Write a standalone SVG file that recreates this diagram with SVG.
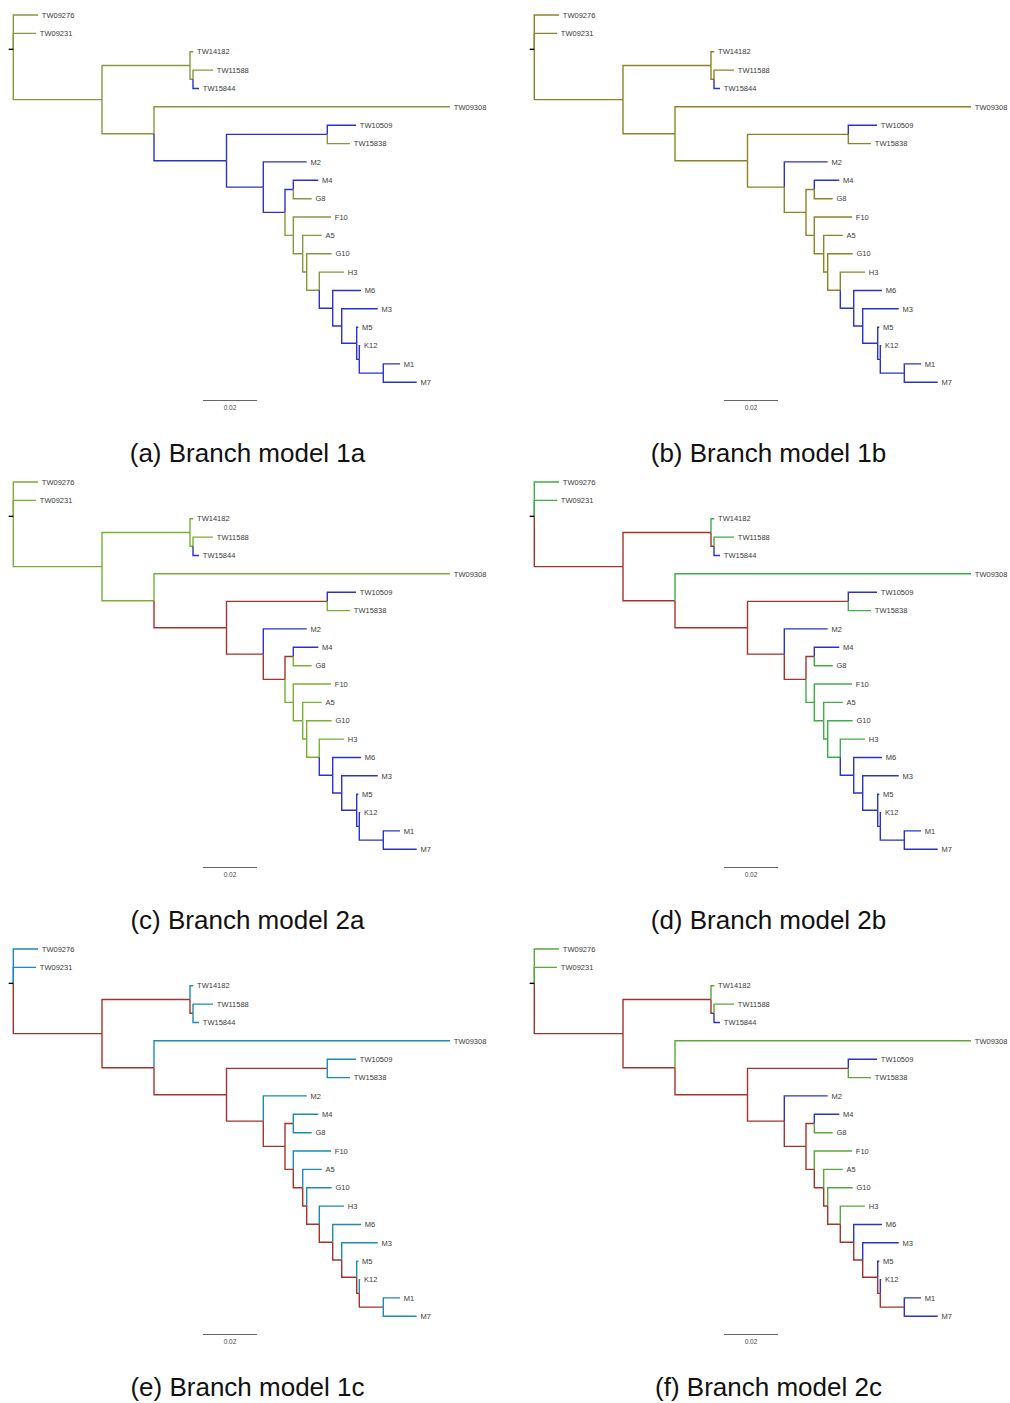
<svg xmlns="http://www.w3.org/2000/svg" width="1010" height="1403" viewBox="0 0 1010 1403">
<style>
.e path{fill:none;stroke-width:1.4;stroke-linejoin:miter;stroke-linecap:butt}
.oa{stroke:#8b963f}.ob{stroke:#8c8424}.yg{stroke:#7ab034}.gd{stroke:#3fae49}.gf{stroke:#58a83a}
.bl{stroke:#2d32c8}.rd{stroke:#a3342c}.tl{stroke:#1c8cb4}
.root{stroke:#000;stroke-width:1.2;fill:none}
.lbl text{font-family:"Liberation Sans",Arial,sans-serif;font-size:7.5px;fill:#3a3a3a}
.sb{stroke:#666;stroke-width:1.2;fill:none}
.sbt{font-family:"Liberation Sans",Arial,sans-serif;font-size:6.5px;fill:#444;text-anchor:middle}
.cap{font-family:"Liberation Sans",Arial,sans-serif;font-size:26px;fill:#111;text-anchor:middle}
</style>
<rect width="1010" height="1403" fill="#fff"/>

<!-- Panel a -->
<g id="panel-a">
<g id="a-connectors" class="e">
<path class="oa" d="M13.3 49.35V15H38"/><path class="oa" d="M13.3 49.35V33.4H36"/><path class="oa" d="M13.3 49.35V99.65H102"/>
<path class="oa" d="M102 99.65V65.5H190"/><path class="oa" d="M190 65.5V51.7H193.3"/><path class="oa" d="M190 65.5V79.3H193"/>
<path class="oa" d="M193 79.3V70.1H213"/><path class="bl" d="M193 79.3V88.5H199"/><path class="oa" d="M102 99.65V133.8H154"/>
<path class="oa" d="M154 133.8V106.8H450"/><path class="bl" d="M154 133.8V160.8H226.5"/><path class="bl" d="M226.5 160.8V134.4H327.3"/>
<path class="bl" d="M327.3 134.4V125.2H356"/><path class="oa" d="M327.3 134.4V143.6H350"/><path class="bl" d="M226.5 160.8V187.15H263.3"/>
<path class="bl" d="M263.3 187.15V161.9H306.7"/><path class="bl" d="M263.3 187.15V212.4H285"/><path class="bl" d="M285 212.4V189.5H293.3"/>
<path class="bl" d="M293.3 189.5V180.3H318.3"/><path class="oa" d="M293.3 189.5V198.7H311.7"/><path class="oa" d="M285 212.4V235.35H293.3"/>
<path class="oa" d="M293.3 235.35V217H331"/><path class="oa" d="M293.3 235.35V253.7H302.7"/><path class="oa" d="M302.7 253.7V235.4H321.7"/>
<path class="oa" d="M302.7 253.7V271.95H306.7"/><path class="oa" d="M306.7 271.95V253.7H331.7"/><path class="oa" d="M306.7 271.95V290.2H319.3"/>
<path class="oa" d="M319.3 290.2V272.1H344"/><path class="bl" d="M319.3 290.2V308.3H332.7"/><path class="bl" d="M332.7 308.3V290.5H361"/>
<path class="bl" d="M332.7 308.3V326.05H341.7"/><path class="bl" d="M341.7 326.05V308.8H377.7"/><path class="bl" d="M341.7 326.05V343.3H356.7"/>
<path class="bl" d="M356.7 343.3V327.2H358.3"/><path class="bl" d="M356.7 343.3V359.35H359.3"/><path class="bl" d="M359.3 359.35V345.6H360.3"/>
<path class="bl" d="M359.3 359.35V373.1H383.3"/><path class="bl" d="M383.3 373.1V363.9H400"/><path class="bl" d="M383.3 373.1V382.3H416.7"/>
<path class="root" d="M8.7 49.35H13.3"/>
</g>
<g id="a-leaves" class="lbl">
<g id="a-TW09276"><text x="41.8" y="17.7">TW09276</text></g>
<g id="a-TW09231"><text x="39.8" y="36.1">TW09231</text></g>
<g id="a-TW14182"><text x="197.1" y="54.4">TW14182</text></g>
<g id="a-TW11588"><text x="216.8" y="72.8">TW11588</text></g>
<g id="a-TW15844"><text x="202.8" y="91.2">TW15844</text></g>
<g id="a-TW09308"><text x="453.8" y="109.5">TW09308</text></g>
<g id="a-TW10509"><text x="359.8" y="127.9">TW10509</text></g>
<g id="a-TW15838"><text x="353.8" y="146.3">TW15838</text></g>
<g id="a-M2"><text x="310.5" y="164.6">M2</text></g>
<g id="a-M4"><text x="322.1" y="183">M4</text></g>
<g id="a-G8"><text x="315.5" y="201.4">G8</text></g>
<g id="a-F10"><text x="334.8" y="219.7">F10</text></g>
<g id="a-A5"><text x="325.5" y="238.1">A5</text></g>
<g id="a-G10"><text x="335.5" y="256.4">G10</text></g>
<g id="a-H3"><text x="347.8" y="274.8">H3</text></g>
<g id="a-M6"><text x="364.8" y="293.2">M6</text></g>
<g id="a-M3"><text x="381.5" y="311.5">M3</text></g>
<g id="a-M5"><text x="362.1" y="329.9">M5</text></g>
<g id="a-K12"><text x="364.1" y="348.3">K12</text></g>
<g id="a-M1"><text x="403.8" y="366.6">M1</text></g>
<g id="a-M7"><text x="420.5" y="385">M7</text></g>
</g>
<path class="sb" d="M203 400.5H257"/><text class="sbt" x="230" y="409.8">0.02</text>
<text class="cap" x="247.5" y="462">(a) Branch model 1a</text>
</g>

<!-- Panel b -->
<g id="panel-b" transform="translate(521,0)">
<g id="b-connectors" class="e">
<path class="ob" d="M13.3 49.35V15H38"/><path class="ob" d="M13.3 49.35V33.4H36"/><path class="ob" d="M13.3 49.35V99.65H102"/>
<path class="ob" d="M102 99.65V65.5H190"/><path class="ob" d="M190 65.5V51.7H193.3"/><path class="ob" d="M190 65.5V79.3H193"/>
<path class="ob" d="M193 79.3V70.1H213"/><path class="bl" d="M193 79.3V88.5H199"/><path class="ob" d="M102 99.65V133.8H154"/>
<path class="ob" d="M154 133.8V106.8H450"/><path class="ob" d="M154 133.8V160.8H226.5"/><path class="ob" d="M226.5 160.8V134.4H327.3"/>
<path class="bl" d="M327.3 134.4V125.2H356"/><path class="ob" d="M327.3 134.4V143.6H350"/><path class="ob" d="M226.5 160.8V187.15H263.3"/>
<path class="bl" d="M263.3 187.15V161.9H306.7"/><path class="ob" d="M263.3 187.15V212.4H285"/><path class="ob" d="M285 212.4V189.5H293.3"/>
<path class="bl" d="M293.3 189.5V180.3H318.3"/><path class="ob" d="M293.3 189.5V198.7H311.7"/><path class="ob" d="M285 212.4V235.35H293.3"/>
<path class="ob" d="M293.3 235.35V217H331"/><path class="ob" d="M293.3 235.35V253.7H302.7"/><path class="ob" d="M302.7 253.7V235.4H321.7"/>
<path class="ob" d="M302.7 253.7V271.95H306.7"/><path class="ob" d="M306.7 271.95V253.7H331.7"/><path class="ob" d="M306.7 271.95V290.2H319.3"/>
<path class="ob" d="M319.3 290.2V272.1H344"/><path class="bl" d="M319.3 290.2V308.3H332.7"/><path class="bl" d="M332.7 308.3V290.5H361"/>
<path class="bl" d="M332.7 308.3V326.05H341.7"/><path class="bl" d="M341.7 326.05V308.8H377.7"/><path class="bl" d="M341.7 326.05V343.3H356.7"/>
<path class="bl" d="M356.7 343.3V327.2H358.3"/><path class="bl" d="M356.7 343.3V359.35H359.3"/><path class="bl" d="M359.3 359.35V345.6H360.3"/>
<path class="bl" d="M359.3 359.35V373.1H383.3"/><path class="bl" d="M383.3 373.1V363.9H400"/><path class="bl" d="M383.3 373.1V382.3H416.7"/>
<path class="root" d="M8.7 49.35H13.3"/>
</g>
<g id="b-leaves" class="lbl">
<g id="b-TW09276"><text x="41.8" y="17.7">TW09276</text></g>
<g id="b-TW09231"><text x="39.8" y="36.1">TW09231</text></g>
<g id="b-TW14182"><text x="197.1" y="54.4">TW14182</text></g>
<g id="b-TW11588"><text x="216.8" y="72.8">TW11588</text></g>
<g id="b-TW15844"><text x="202.8" y="91.2">TW15844</text></g>
<g id="b-TW09308"><text x="453.8" y="109.5">TW09308</text></g>
<g id="b-TW10509"><text x="359.8" y="127.9">TW10509</text></g>
<g id="b-TW15838"><text x="353.8" y="146.3">TW15838</text></g>
<g id="b-M2"><text x="310.5" y="164.6">M2</text></g>
<g id="b-M4"><text x="322.1" y="183">M4</text></g>
<g id="b-G8"><text x="315.5" y="201.4">G8</text></g>
<g id="b-F10"><text x="334.8" y="219.7">F10</text></g>
<g id="b-A5"><text x="325.5" y="238.1">A5</text></g>
<g id="b-G10"><text x="335.5" y="256.4">G10</text></g>
<g id="b-H3"><text x="347.8" y="274.8">H3</text></g>
<g id="b-M6"><text x="364.8" y="293.2">M6</text></g>
<g id="b-M3"><text x="381.5" y="311.5">M3</text></g>
<g id="b-M5"><text x="362.1" y="329.9">M5</text></g>
<g id="b-K12"><text x="364.1" y="348.3">K12</text></g>
<g id="b-M1"><text x="403.8" y="366.6">M1</text></g>
<g id="b-M7"><text x="420.5" y="385">M7</text></g>
</g>
<path class="sb" d="M203 400.5H257"/><text class="sbt" x="230" y="409.8">0.02</text>
<text class="cap" x="247.5" y="462">(b) Branch model 1b</text>
</g>

<!-- Panel c -->
<g id="panel-c" transform="translate(0,467)">
<g id="c-connectors" class="e">
<path class="yg" d="M13.3 49.35V15H38"/><path class="yg" d="M13.3 49.35V33.4H36"/><path class="yg" d="M13.3 49.35V99.65H102"/>
<path class="yg" d="M102 99.65V65.5H190"/><path class="yg" d="M190 65.5V51.7H193.3"/><path class="yg" d="M190 65.5V79.3H193"/>
<path class="yg" d="M193 79.3V70.1H213"/><path class="bl" d="M193 79.3V88.5H199"/><path class="yg" d="M102 99.65V133.8H154"/>
<path class="yg" d="M154 133.8V106.8H450"/><path class="rd" d="M154 133.8V160.8H226.5"/><path class="rd" d="M226.5 160.8V134.4H327.3"/>
<path class="bl" d="M327.3 134.4V125.2H356"/><path class="yg" d="M327.3 134.4V143.6H350"/><path class="rd" d="M226.5 160.8V187.15H263.3"/>
<path class="bl" d="M263.3 187.15V161.9H306.7"/><path class="rd" d="M263.3 187.15V212.4H285"/><path class="rd" d="M285 212.4V189.5H293.3"/>
<path class="bl" d="M293.3 189.5V180.3H318.3"/><path class="yg" d="M293.3 189.5V198.7H311.7"/><path class="yg" d="M285 212.4V235.35H293.3"/>
<path class="yg" d="M293.3 235.35V217H331"/><path class="yg" d="M293.3 235.35V253.7H302.7"/><path class="yg" d="M302.7 253.7V235.4H321.7"/>
<path class="yg" d="M302.7 253.7V271.95H306.7"/><path class="yg" d="M306.7 271.95V253.7H331.7"/><path class="yg" d="M306.7 271.95V290.2H319.3"/>
<path class="yg" d="M319.3 290.2V272.1H344"/><path class="bl" d="M319.3 290.2V308.3H332.7"/><path class="bl" d="M332.7 308.3V290.5H361"/>
<path class="bl" d="M332.7 308.3V326.05H341.7"/><path class="bl" d="M341.7 326.05V308.8H377.7"/><path class="bl" d="M341.7 326.05V343.3H356.7"/>
<path class="bl" d="M356.7 343.3V327.2H358.3"/><path class="bl" d="M356.7 343.3V359.35H359.3"/><path class="bl" d="M359.3 359.35V345.6H360.3"/>
<path class="bl" d="M359.3 359.35V373.1H383.3"/><path class="bl" d="M383.3 373.1V363.9H400"/><path class="bl" d="M383.3 373.1V382.3H416.7"/>
<path class="root" d="M8.7 49.35H13.3"/>
</g>
<g id="c-leaves" class="lbl">
<g id="c-TW09276"><text x="41.8" y="17.7">TW09276</text></g>
<g id="c-TW09231"><text x="39.8" y="36.1">TW09231</text></g>
<g id="c-TW14182"><text x="197.1" y="54.4">TW14182</text></g>
<g id="c-TW11588"><text x="216.8" y="72.8">TW11588</text></g>
<g id="c-TW15844"><text x="202.8" y="91.2">TW15844</text></g>
<g id="c-TW09308"><text x="453.8" y="109.5">TW09308</text></g>
<g id="c-TW10509"><text x="359.8" y="127.9">TW10509</text></g>
<g id="c-TW15838"><text x="353.8" y="146.3">TW15838</text></g>
<g id="c-M2"><text x="310.5" y="164.6">M2</text></g>
<g id="c-M4"><text x="322.1" y="183">M4</text></g>
<g id="c-G8"><text x="315.5" y="201.4">G8</text></g>
<g id="c-F10"><text x="334.8" y="219.7">F10</text></g>
<g id="c-A5"><text x="325.5" y="238.1">A5</text></g>
<g id="c-G10"><text x="335.5" y="256.4">G10</text></g>
<g id="c-H3"><text x="347.8" y="274.8">H3</text></g>
<g id="c-M6"><text x="364.8" y="293.2">M6</text></g>
<g id="c-M3"><text x="381.5" y="311.5">M3</text></g>
<g id="c-M5"><text x="362.1" y="329.9">M5</text></g>
<g id="c-K12"><text x="364.1" y="348.3">K12</text></g>
<g id="c-M1"><text x="403.8" y="366.6">M1</text></g>
<g id="c-M7"><text x="420.5" y="385">M7</text></g>
</g>
<path class="sb" d="M203 400.5H257"/><text class="sbt" x="230" y="409.8">0.02</text>
<text class="cap" x="247.5" y="462">(c) Branch model 2a</text>
</g>

<!-- Panel d -->
<g id="panel-d" transform="translate(521,467)">
<g id="d-connectors" class="e">
<path class="gd" d="M13.3 49.35V15H38"/><path class="gd" d="M13.3 49.35V33.4H36"/><path class="rd" d="M13.3 49.35V99.65H102"/>
<path class="rd" d="M102 99.65V65.5H190"/><path class="gd" d="M190 65.5V51.7H193.3"/><path class="rd" d="M190 65.5V79.3H193"/>
<path class="gd" d="M193 79.3V70.1H213"/><path class="bl" d="M193 79.3V88.5H199"/><path class="rd" d="M102 99.65V133.8H154"/>
<path class="gd" d="M154 133.8V106.8H450"/><path class="rd" d="M154 133.8V160.8H226.5"/><path class="rd" d="M226.5 160.8V134.4H327.3"/>
<path class="bl" d="M327.3 134.4V125.2H356"/><path class="gd" d="M327.3 134.4V143.6H350"/><path class="rd" d="M226.5 160.8V187.15H263.3"/>
<path class="bl" d="M263.3 187.15V161.9H306.7"/><path class="rd" d="M263.3 187.15V212.4H285"/><path class="rd" d="M285 212.4V189.5H293.3"/>
<path class="bl" d="M293.3 189.5V180.3H318.3"/><path class="gd" d="M293.3 189.5V198.7H311.7"/><path class="gd" d="M285 212.4V235.35H293.3"/>
<path class="gd" d="M293.3 235.35V217H331"/><path class="gd" d="M293.3 235.35V253.7H302.7"/><path class="gd" d="M302.7 253.7V235.4H321.7"/>
<path class="gd" d="M302.7 253.7V271.95H306.7"/><path class="gd" d="M306.7 271.95V253.7H331.7"/><path class="gd" d="M306.7 271.95V290.2H319.3"/>
<path class="gd" d="M319.3 290.2V272.1H344"/><path class="bl" d="M319.3 290.2V308.3H332.7"/><path class="bl" d="M332.7 308.3V290.5H361"/>
<path class="bl" d="M332.7 308.3V326.05H341.7"/><path class="bl" d="M341.7 326.05V308.8H377.7"/><path class="bl" d="M341.7 326.05V343.3H356.7"/>
<path class="bl" d="M356.7 343.3V327.2H358.3"/><path class="bl" d="M356.7 343.3V359.35H359.3"/><path class="bl" d="M359.3 359.35V345.6H360.3"/>
<path class="bl" d="M359.3 359.35V373.1H383.3"/><path class="bl" d="M383.3 373.1V363.9H400"/><path class="bl" d="M383.3 373.1V382.3H416.7"/>
<path class="root" d="M8.7 49.35H13.3"/>
</g>
<g id="d-leaves" class="lbl">
<g id="d-TW09276"><text x="41.8" y="17.7">TW09276</text></g>
<g id="d-TW09231"><text x="39.8" y="36.1">TW09231</text></g>
<g id="d-TW14182"><text x="197.1" y="54.4">TW14182</text></g>
<g id="d-TW11588"><text x="216.8" y="72.8">TW11588</text></g>
<g id="d-TW15844"><text x="202.8" y="91.2">TW15844</text></g>
<g id="d-TW09308"><text x="453.8" y="109.5">TW09308</text></g>
<g id="d-TW10509"><text x="359.8" y="127.9">TW10509</text></g>
<g id="d-TW15838"><text x="353.8" y="146.3">TW15838</text></g>
<g id="d-M2"><text x="310.5" y="164.6">M2</text></g>
<g id="d-M4"><text x="322.1" y="183">M4</text></g>
<g id="d-G8"><text x="315.5" y="201.4">G8</text></g>
<g id="d-F10"><text x="334.8" y="219.7">F10</text></g>
<g id="d-A5"><text x="325.5" y="238.1">A5</text></g>
<g id="d-G10"><text x="335.5" y="256.4">G10</text></g>
<g id="d-H3"><text x="347.8" y="274.8">H3</text></g>
<g id="d-M6"><text x="364.8" y="293.2">M6</text></g>
<g id="d-M3"><text x="381.5" y="311.5">M3</text></g>
<g id="d-M5"><text x="362.1" y="329.9">M5</text></g>
<g id="d-K12"><text x="364.1" y="348.3">K12</text></g>
<g id="d-M1"><text x="403.8" y="366.6">M1</text></g>
<g id="d-M7"><text x="420.5" y="385">M7</text></g>
</g>
<path class="sb" d="M203 400.5H257"/><text class="sbt" x="230" y="409.8">0.02</text>
<text class="cap" x="247.5" y="462">(d) Branch model 2b</text>
</g>

<!-- Panel e -->
<g id="panel-e" transform="translate(0,934)">
<g id="e-connectors" class="e">
<path class="tl" d="M13.3 49.35V15H38"/><path class="tl" d="M13.3 49.35V33.4H36"/><path class="rd" d="M13.3 49.35V99.65H102"/>
<path class="rd" d="M102 99.65V65.5H190"/><path class="tl" d="M190 65.5V51.7H193.3"/><path class="rd" d="M190 65.5V79.3H193"/>
<path class="tl" d="M193 79.3V70.1H213"/><path class="tl" d="M193 79.3V88.5H199"/><path class="rd" d="M102 99.65V133.8H154"/>
<path class="tl" d="M154 133.8V106.8H450"/><path class="rd" d="M154 133.8V160.8H226.5"/><path class="rd" d="M226.5 160.8V134.4H327.3"/>
<path class="tl" d="M327.3 134.4V125.2H356"/><path class="tl" d="M327.3 134.4V143.6H350"/><path class="rd" d="M226.5 160.8V187.15H263.3"/>
<path class="tl" d="M263.3 187.15V161.9H306.7"/><path class="rd" d="M263.3 187.15V212.4H285"/><path class="rd" d="M285 212.4V189.5H293.3"/>
<path class="tl" d="M293.3 189.5V180.3H318.3"/><path class="tl" d="M293.3 189.5V198.7H311.7"/><path class="rd" d="M285 212.4V235.35H293.3"/>
<path class="tl" d="M293.3 235.35V217H331"/><path class="rd" d="M293.3 235.35V253.7H302.7"/><path class="tl" d="M302.7 253.7V235.4H321.7"/>
<path class="rd" d="M302.7 253.7V271.95H306.7"/><path class="tl" d="M306.7 271.95V253.7H331.7"/><path class="rd" d="M306.7 271.95V290.2H319.3"/>
<path class="tl" d="M319.3 290.2V272.1H344"/><path class="rd" d="M319.3 290.2V308.3H332.7"/><path class="tl" d="M332.7 308.3V290.5H361"/>
<path class="rd" d="M332.7 308.3V326.05H341.7"/><path class="tl" d="M341.7 326.05V308.8H377.7"/><path class="rd" d="M341.7 326.05V343.3H356.7"/>
<path class="tl" d="M356.7 343.3V327.2H358.3"/><path class="rd" d="M356.7 343.3V359.35H359.3"/><path class="tl" d="M359.3 359.35V345.6H360.3"/>
<path class="rd" d="M359.3 359.35V373.1H383.3"/><path class="tl" d="M383.3 373.1V363.9H400"/><path class="tl" d="M383.3 373.1V382.3H416.7"/>
<path class="root" d="M8.7 49.35H13.3"/>
</g>
<g id="e-leaves" class="lbl">
<g id="e-TW09276"><text x="41.8" y="17.7">TW09276</text></g>
<g id="e-TW09231"><text x="39.8" y="36.1">TW09231</text></g>
<g id="e-TW14182"><text x="197.1" y="54.4">TW14182</text></g>
<g id="e-TW11588"><text x="216.8" y="72.8">TW11588</text></g>
<g id="e-TW15844"><text x="202.8" y="91.2">TW15844</text></g>
<g id="e-TW09308"><text x="453.8" y="109.5">TW09308</text></g>
<g id="e-TW10509"><text x="359.8" y="127.9">TW10509</text></g>
<g id="e-TW15838"><text x="353.8" y="146.3">TW15838</text></g>
<g id="e-M2"><text x="310.5" y="164.6">M2</text></g>
<g id="e-M4"><text x="322.1" y="183">M4</text></g>
<g id="e-G8"><text x="315.5" y="201.4">G8</text></g>
<g id="e-F10"><text x="334.8" y="219.7">F10</text></g>
<g id="e-A5"><text x="325.5" y="238.1">A5</text></g>
<g id="e-G10"><text x="335.5" y="256.4">G10</text></g>
<g id="e-H3"><text x="347.8" y="274.8">H3</text></g>
<g id="e-M6"><text x="364.8" y="293.2">M6</text></g>
<g id="e-M3"><text x="381.5" y="311.5">M3</text></g>
<g id="e-M5"><text x="362.1" y="329.9">M5</text></g>
<g id="e-K12"><text x="364.1" y="348.3">K12</text></g>
<g id="e-M1"><text x="403.8" y="366.6">M1</text></g>
<g id="e-M7"><text x="420.5" y="385">M7</text></g>
</g>
<path class="sb" d="M203 400.5H257"/><text class="sbt" x="230" y="409.8">0.02</text>
<text class="cap" x="247.5" y="462">(e) Branch model 1c</text>
</g>

<!-- Panel f -->
<g id="panel-f" transform="translate(521,934)">
<g id="f-connectors" class="e">
<path class="gf" d="M13.3 49.35V15H38"/><path class="gf" d="M13.3 49.35V33.4H36"/><path class="rd" d="M13.3 49.35V99.65H102"/>
<path class="rd" d="M102 99.65V65.5H190"/><path class="gf" d="M190 65.5V51.7H193.3"/><path class="rd" d="M190 65.5V79.3H193"/>
<path class="gf" d="M193 79.3V70.1H213"/><path class="bl" d="M193 79.3V88.5H199"/><path class="rd" d="M102 99.65V133.8H154"/>
<path class="gf" d="M154 133.8V106.8H450"/><path class="rd" d="M154 133.8V160.8H226.5"/><path class="rd" d="M226.5 160.8V134.4H327.3"/>
<path class="bl" d="M327.3 134.4V125.2H356"/><path class="gf" d="M327.3 134.4V143.6H350"/><path class="rd" d="M226.5 160.8V187.15H263.3"/>
<path class="bl" d="M263.3 187.15V161.9H306.7"/><path class="rd" d="M263.3 187.15V212.4H285"/><path class="rd" d="M285 212.4V189.5H293.3"/>
<path class="bl" d="M293.3 189.5V180.3H318.3"/><path class="gf" d="M293.3 189.5V198.7H311.7"/><path class="rd" d="M285 212.4V235.35H293.3"/>
<path class="gf" d="M293.3 235.35V217H331"/><path class="rd" d="M293.3 235.35V253.7H302.7"/><path class="gf" d="M302.7 253.7V235.4H321.7"/>
<path class="rd" d="M302.7 253.7V271.95H306.7"/><path class="gf" d="M306.7 271.95V253.7H331.7"/><path class="rd" d="M306.7 271.95V290.2H319.3"/>
<path class="gf" d="M319.3 290.2V272.1H344"/><path class="rd" d="M319.3 290.2V308.3H332.7"/><path class="bl" d="M332.7 308.3V290.5H361"/>
<path class="rd" d="M332.7 308.3V326.05H341.7"/><path class="bl" d="M341.7 326.05V308.8H377.7"/><path class="rd" d="M341.7 326.05V343.3H356.7"/>
<path class="bl" d="M356.7 343.3V327.2H358.3"/><path class="rd" d="M356.7 343.3V359.35H359.3"/><path class="bl" d="M359.3 359.35V345.6H360.3"/>
<path class="rd" d="M359.3 359.35V373.1H383.3"/><path class="bl" d="M383.3 373.1V363.9H400"/><path class="bl" d="M383.3 373.1V382.3H416.7"/>
<path class="root" d="M8.7 49.35H13.3"/>
</g>
<g id="f-leaves" class="lbl">
<g id="f-TW09276"><text x="41.8" y="17.7">TW09276</text></g>
<g id="f-TW09231"><text x="39.8" y="36.1">TW09231</text></g>
<g id="f-TW14182"><text x="197.1" y="54.4">TW14182</text></g>
<g id="f-TW11588"><text x="216.8" y="72.8">TW11588</text></g>
<g id="f-TW15844"><text x="202.8" y="91.2">TW15844</text></g>
<g id="f-TW09308"><text x="453.8" y="109.5">TW09308</text></g>
<g id="f-TW10509"><text x="359.8" y="127.9">TW10509</text></g>
<g id="f-TW15838"><text x="353.8" y="146.3">TW15838</text></g>
<g id="f-M2"><text x="310.5" y="164.6">M2</text></g>
<g id="f-M4"><text x="322.1" y="183">M4</text></g>
<g id="f-G8"><text x="315.5" y="201.4">G8</text></g>
<g id="f-F10"><text x="334.8" y="219.7">F10</text></g>
<g id="f-A5"><text x="325.5" y="238.1">A5</text></g>
<g id="f-G10"><text x="335.5" y="256.4">G10</text></g>
<g id="f-H3"><text x="347.8" y="274.8">H3</text></g>
<g id="f-M6"><text x="364.8" y="293.2">M6</text></g>
<g id="f-M3"><text x="381.5" y="311.5">M3</text></g>
<g id="f-M5"><text x="362.1" y="329.9">M5</text></g>
<g id="f-K12"><text x="364.1" y="348.3">K12</text></g>
<g id="f-M1"><text x="403.8" y="366.6">M1</text></g>
<g id="f-M7"><text x="420.5" y="385">M7</text></g>
</g>
<path class="sb" d="M203 400.5H257"/><text class="sbt" x="230" y="409.8">0.02</text>
<text class="cap" x="247.5" y="462">(f) Branch model 2c</text>
</g>
</svg>
